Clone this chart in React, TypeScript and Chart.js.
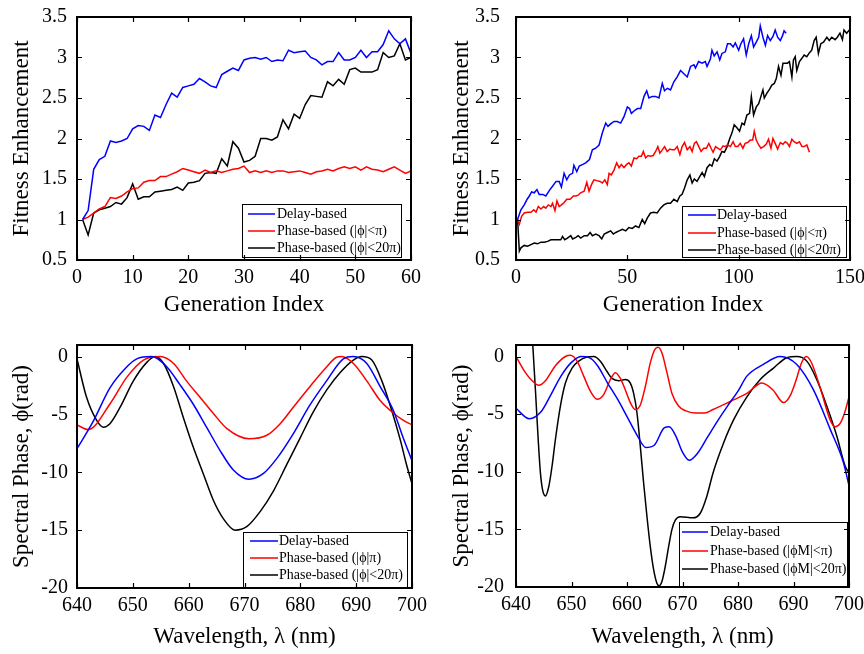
import React, { useEffect, useRef } from "react";
import { Chart, registerables } from "chart.js";

Chart.register(...registerables);

const SERIF = "'Liberation Serif', 'Times New Roman', Times, serif";

// ---------------- Top-left panel (60 generations) ----------------
const tlDelay = [1.0, 1.11, 1.62, 1.74, 1.78, 1.97, 1.95, 1.97, 2.0, 2.12, 2.16, 2.15, 2.10, 2.29, 2.26, 2.42, 2.56, 2.51, 2.63, 2.65, 2.67, 2.74, 2.70, 2.65, 2.63, 2.79, 2.83, 2.87, 2.84, 2.97, 2.99, 3.0, 2.98, 3.0, 2.95, 2.97, 2.96, 3.09, 3.06, 3.07, 3.08, 3.0, 2.97, 2.91, 2.95, 2.95, 3.06, 2.97, 2.97, 3.0, 3.09, 3.0, 3.07, 3.07, 3.16, 3.33, 3.23, 3.17, 3.23, 3.05];
const tlPhasePi = [1.0, 1.03, 1.08, 1.13, 1.16, 1.27, 1.26, 1.29, 1.34, 1.38, 1.39, 1.46, 1.48, 1.48, 1.53, 1.53, 1.56, 1.59, 1.63, 1.61, 1.59, 1.57, 1.61, 1.58, 1.6, 1.58, 1.6, 1.62, 1.63, 1.66, 1.58, 1.6, 1.58, 1.6, 1.58, 1.6, 1.6, 1.58, 1.59, 1.6, 1.58, 1.56, 1.59, 1.6, 1.62, 1.6, 1.63, 1.65, 1.63, 1.65, 1.61, 1.65, 1.62, 1.61, 1.59, 1.62, 1.65, 1.61, 1.57, 1.6];
const tlPhase20Pi = [1.0, 0.81, 1.08, 1.12, 1.14, 1.16, 1.21, 1.19, 1.27, 1.44, 1.25, 1.28, 1.28, 1.34, 1.35, 1.36, 1.37, 1.40, 1.36, 1.45, 1.46, 1.48, 1.57, 1.58, 1.57, 1.75, 1.66, 1.96, 1.88, 1.71, 1.73, 1.78, 2.0, 2.0, 1.98, 2.02, 2.23, 2.12, 2.30, 2.25, 2.42, 2.53, 2.52, 2.51, 2.70, 2.65, 2.73, 2.67, 2.85, 2.87, 2.82, 2.82, 2.82, 2.85, 3.06, 3.0, 3.02, 3.17, 2.97, 3.0];
const tlXTicks = [0, 10, 20, 30, 40, 50, 60];
const fitYTicks = [0.5, 1, 1.5, 2, 2.5, 3, 3.5];

// ---------------- Top-right panel (150 generations) ----------------
const trDelayGen = [0.7, 2.2, 3.7, 5, 6, 7, 8.2, 9.4, 10.4, 12, 13.4, 15, 16.4, 18, 19.4, 20.4, 21.6, 22.8, 24, 25.4, 26, 27.3, 28.4, 30, 31.3, 33, 34.3, 35.8, 37.3, 38.8, 40.3, 41.3, 42.5, 44, 45.5, 47, 48.5, 50, 51, 51.8, 53, 54.5, 56, 57.5, 58.7, 59.7, 61.2, 62.7, 64.2, 65.7, 66.7, 68, 69.4, 70.9, 72.4, 73.9, 75.4, 76.9, 78.4, 79.9, 80.6, 82, 83.6, 85, 85.8, 87.3, 88, 89, 90.3, 91.5, 92.5, 94, 95, 96.3, 97.5, 98.5, 100, 101, 102.2, 103.4, 104.5, 105.7, 106.7, 107.9, 109, 109.7, 110.9, 112, 113, 114.2, 115.4, 116.4, 117.5, 118.7, 119.7, 120.4, 121.3];
const trDelayVal = [1.0, 1.12, 1.18, 1.25, 1.29, 1.34, 1.33, 1.37, 1.31, 1.31, 1.29, 1.36, 1.41, 1.47, 1.47, 1.40, 1.57, 1.49, 1.55, 1.57, 1.67, 1.59, 1.66, 1.68, 1.70, 1.74, 1.86, 1.88, 1.92, 2.07, 2.19, 2.15, 2.18, 2.21, 2.21, 2.19, 2.27, 2.39, 2.37, 2.31, 2.34, 2.37, 2.37, 2.52, 2.59, 2.50, 2.52, 2.52, 2.50, 2.68, 2.59, 2.62, 2.60, 2.70, 2.76, 2.84, 2.80, 2.76, 2.89, 2.91, 2.87, 2.95, 2.93, 2.95, 2.89, 2.98, 3.09, 3.02, 3.07, 2.97, 3.05, 3.07, 3.17, 3.17, 3.13, 3.18, 3.09, 3.17, 3.23, 3.03, 3.17, 3.27, 3.13, 3.19, 3.25, 3.39, 3.25, 3.15, 3.27, 3.21, 3.26, 3.34, 3.25, 3.21, 3.27, 3.33, 3.30];
const trPiGen = [0.5, 1.5, 2.5, 3.7, 5.2, 6.7, 8, 9, 10, 11.2, 12.4, 13.4, 14.5, 15.7, 16.4, 17.5, 18.4, 19.4, 20.4, 21.6, 22.8, 24.3, 25.8, 26.9, 27.9, 29, 30.6, 31.8, 32.8, 33.9, 35, 36.3, 37.8, 38.8, 39.9, 41, 41.8, 42.8, 44, 45.2, 46.3, 47.3, 48.5, 49.7, 50.7, 51.8, 53, 54.2, 55.2, 56.3, 57.2, 58.2, 59.3, 60.4, 61.6, 62.7, 63.7, 64.6, 65.7, 66.7, 67.9, 69.1, 70.1, 71.2, 72.4, 73.6, 74.6, 75.7, 76.9, 78.1, 79.1, 80.1, 81, 82.1, 83.1, 84.3, 85.5, 86.6, 87.6, 88.5, 89.6, 90.6, 91.8, 93, 94, 95, 96.3, 97.5, 98.5, 99.6, 100.7, 101.9, 102.9, 104, 105.2, 106.3, 107, 107.9, 109, 110, 111.2, 112.4, 113.4, 114.5, 115.4, 116.4, 117.5, 118.7, 119.9, 120.9, 121.9, 122.8, 123.9, 124.9, 126.1, 127.3, 128.4, 129.4, 130.6, 131.8];
const trPiVal = [1.0, 0.94, 1.04, 1.08, 1.09, 1.09, 1.12, 1.09, 1.16, 1.13, 1.16, 1.14, 1.18, 1.16, 1.20, 1.11, 1.23, 1.16, 1.18, 1.21, 1.25, 1.25, 1.29, 1.29, 1.30, 1.33, 1.35, 1.46, 1.35, 1.43, 1.49, 1.48, 1.47, 1.45, 1.49, 1.43, 1.57, 1.55, 1.61, 1.70, 1.64, 1.68, 1.64, 1.68, 1.70, 1.66, 1.76, 1.75, 1.78, 1.78, 1.84, 1.76, 1.79, 1.78, 1.79, 1.84, 1.90, 1.82, 1.86, 1.90, 1.84, 1.87, 1.86, 1.86, 1.90, 1.80, 1.90, 1.95, 1.86, 1.90, 1.84, 1.94, 1.96, 1.90, 1.84, 1.88, 1.88, 1.94, 1.88, 1.83, 1.90, 1.88, 1.86, 1.91, 1.90, 1.92, 1.90, 1.96, 1.90, 1.90, 1.94, 1.88, 1.94, 1.95, 1.98, 1.98, 2.09, 1.98, 1.92, 1.88, 1.90, 1.93, 1.99, 1.88, 2.0, 1.94, 1.87, 1.95, 1.93, 1.96, 1.94, 1.90, 1.99, 1.96, 1.94, 1.96, 1.90, 1.90, 1.92, 1.83];
const tr20PiGen = [0, 0.7, 1.5, 2.2, 3.7, 5.2, 6.7, 8.2, 9.7, 11.2, 12.7, 14.2, 15.7, 17.2, 18.7, 20.1, 20.9, 21.9, 23.1, 24.6, 25.4, 26.9, 27.9, 29.1, 30.6, 32.1, 33.3, 34.3, 35.8, 37.3, 38.5, 39.6, 41, 42.5, 43.7, 44.8, 46.3, 47.8, 49.3, 50.7, 52.2, 53.7, 55.2, 56.7, 57.8, 59, 60.4, 61.9, 63.4, 64.9, 66.4, 67.9, 69.4, 70.9, 72.4, 73.6, 74.6, 75.7, 76.9, 78.1, 79.1, 80.1, 81.3, 82.5, 83.6, 84.6, 85.8, 87, 88, 89.1, 90.3, 91.5, 92.5, 93.6, 94.8, 96, 97, 98, 99.3, 100.4, 101.5, 102.5, 103.7, 104.9, 105.7, 106.7, 107.9, 109, 110, 110.9, 111.5, 112.7, 113.9, 114.9, 116, 116.9, 117.9, 119, 119.9, 120.9, 121.9, 122.8, 123.9, 124.6, 125.4, 126.1, 127.3, 128.4, 129.4, 130.6, 131.8, 132.8, 133.9, 134.8, 135.8, 136.9, 138.1, 139.6, 140.7, 141.8, 143.3, 144.3, 145.5, 146.6, 147.3, 148.5, 149.7];
const tr20PiVal = [1.0, 1.0, 0.61, 0.65, 0.68, 0.67, 0.69, 0.71, 0.70, 0.72, 0.72, 0.73, 0.75, 0.75, 0.75, 0.75, 0.79, 0.75, 0.77, 0.80, 0.76, 0.78, 0.80, 0.77, 0.80, 0.80, 0.84, 0.80, 0.82, 0.80, 0.76, 0.82, 0.84, 0.86, 0.82, 0.84, 0.86, 0.88, 0.86, 0.90, 0.89, 0.92, 0.90, 1.0, 0.95, 1.02, 1.08, 1.09, 1.08, 1.14, 1.18, 1.20, 1.20, 1.25, 1.22, 1.29, 1.31, 1.39, 1.49, 1.55, 1.45, 1.50, 1.47, 1.53, 1.58, 1.53, 1.64, 1.68, 1.66, 1.75, 1.72, 1.78, 1.84, 1.83, 1.90, 2.0, 2.07, 2.17, 2.13, 2.09, 2.19, 2.17, 2.29, 2.31, 2.52, 2.29, 2.39, 2.43, 2.52, 2.60, 2.50, 2.56, 2.61, 2.66, 2.68, 2.74, 2.89, 2.78, 2.93, 2.93, 2.93, 2.95, 2.76, 2.97, 3.01, 2.84, 2.95, 2.99, 3.03, 3.01, 3.06, 3.09, 3.21, 3.25, 3.05, 3.17, 3.19, 3.25, 3.21, 3.25, 3.22, 3.25, 3.30, 3.22, 3.34, 3.30, 3.34];
const trXTicks = [0, 50, 100, 150];

// ---------------- Bottom panels (spectral phase) ----------------
const specXTicks = [640, 650, 660, 670, 680, 690, 700];
const specYTicks = [-20, -15, -10, -5, 0];

const blDelayWl = [640, 642.9, 645.9, 648.9, 650.7, 653.4, 656.1, 658.4, 660.8, 663.2, 665.6, 668, 670.8, 673.4, 675.8, 678.7, 681.7, 684.7, 687.7, 689.5, 691.9, 694.3, 696.7, 698.4, 700];
const blDelayPh = [-7.96, -5.6, -2.7, -0.9, -0.2, 0, -0.9, -2.4, -4.1, -6.1, -8.1, -9.8, -10.6, -10.1, -8.8, -6.7, -4.2, -2.1, -0.2, 0, -0.6, -2.6, -4.7, -7.0, -9.0];
const blPiWl = [640, 642, 645.9, 648.9, 651.9, 654.9, 657.3, 659.6, 662, 664.4, 666.8, 670.8, 674, 676.4, 678.7, 681.7, 684.7, 686.5, 687.4, 689.5, 691.9, 694.3, 696.7, 698.4, 700];
const blPiPh = [-5.9, -6.3, -4.1, -1.8, -0.3, 0, -0.6, -2.1, -3.5, -4.9, -6.2, -7.1, -6.8, -5.8, -4.4, -2.6, -0.9, -0.06, 0, -0.6, -2.1, -3.8, -4.9, -5.5, -5.9];
const bl20PiWl = [640, 641.7, 643.5, 644.7, 645.9, 647.7, 650.1, 652.5, 654, 655.5, 657.3, 659, 660.8, 662.6, 664.4, 666.2, 668.3, 670.4, 672.8, 675.2, 677.6, 680, 682.3, 684.7, 687.1, 689.5, 691, 692.8, 694.6, 696.4, 697.9, 699, 700];
const bl20PiPh = [-0.2, -3.5, -5.5, -6.1, -5.8, -4.4, -2.1, -0.5, 0, -0.6, -2.6, -5.2, -7.8, -10.1, -12.4, -14, -15, -14.7, -13.4, -11.6, -9.3, -7.0, -4.8, -2.9, -1.4, -0.3, 0, -0.3, -2.1, -4.7, -7.2, -9.3, -11];

const brDelayWl = [640, 642.4, 644.5, 646.3, 648.1, 649.9, 651.7, 653.2, 654.7, 656.5, 658.3, 660.1, 661.9, 663.4, 664.9, 666.7, 667.6, 668.8, 670, 671.2, 672.7, 674.5, 676.3, 678.1, 680, 681.6, 684.5, 687.6, 690.6, 693.6, 696.6, 699, 700];
const brDelayPh = [-4.5, -5.4, -4.8, -3.3, -1.7, -0.55, 0, -0.1, -0.8, -2.3, -3.7, -5.3, -6.9, -7.9, -7.7, -6.2, -6.1, -6.9, -8.3, -9.0, -8.4, -7.0, -5.6, -4.3, -3.0, -1.7, -0.7, 0, -0.7, -2.9, -6.3, -9.2, -11.2];
const brPiWl = [640, 641.7, 642.9, 644.1, 645.3, 647.1, 648.9, 649.8, 651, 652.2, 653.4, 654.6, 655.8, 657, 657.9, 658.8, 659.7, 660.6, 661.5, 662.4, 663.3, 664.2, 665, 665.6, 666.3, 667.2, 668.1, 669.3, 670.5, 672.3, 674, 675.5, 678.6, 681.6, 684.3, 686.3, 688.2, 689.5, 690.5, 691.4, 692.3, 693.2, 694.8, 696.6, 697.5, 698.4, 699.2, 700];
const brPiPh = [0, -1.4, -2.1, -2.5, -2.1, -0.8, 0, 0.1, -0.4, -1.7, -3.0, -3.7, -3.3, -2.0, -1.4, -1.9, -2.9, -4.0, -4.6, -4.2, -2.6, -0.55, 0.6, 0.8, 0.3, -1.4, -3.2, -4.3, -4.7, -4.9, -4.9, -4.6, -3.9, -3.2, -2.3, -2.9, -4.0, -3.3, -2.0, -0.6, 0, -0.5, -2.7, -5.5, -6.1, -5.8, -4.9, -3.5];
const br20PiWl = [642.7, 643.0, 643.5, 644.0, 644.4, 644.8, 645.3, 645.9, 646.5, 647.1, 648.0, 648.9, 650.1, 651.3, 652.8, 654, 655.2, 656.4, 657.3, 658.5, 659.7, 660.6, 661.2, 661.8, 662.4, 663.0, 663.6, 664.2, 664.8, 665.4, 665.8, 666.3, 666.9, 667.5, 668.1, 668.7, 669.6, 671.9, 673.2, 674.4, 675.5, 677.4, 679.2, 681.6, 684, 686.4, 688.8, 690.6, 692.4, 694.2, 696, 697.8, 699.3, 700];
const br20PiPh = [3.6, 1.2, -2.9, -7.2, -10.1, -11.6, -12.1, -11.3, -9.5, -7.2, -4.3, -2.3, -1.0, -0.4, -0.05, 0, -0.4, -1.3, -1.9, -2.1, -2.0, -2.3, -3.2, -4.9, -7.8, -11.0, -13.9, -16.5, -18.5, -19.7, -19.9, -19.5, -18.2, -16.5, -15.0, -14.2, -13.9, -14.0, -13.6, -12.1, -10.1, -7.5, -5.5, -3.5, -2.0, -1.0, -0.1, 0, -0.4, -2.0, -4.3, -6.9, -9.5, -10.1];

const legendTop = ["Delay-based", "Phase-based (|ϕ|<π)", "Phase-based (|ϕ|<20π)"];
const legendBL = ["Delay-based", "Phase-based (|ϕ|π)", "Phase-based (|ϕ|<20π)"];
const legendBR = ["Delay-based", "Phase-based (|ϕM|<π)", "Phase-based (|ϕM|<20π)"];
const seriesColors = ["#0000ff", "#ff0000", "#000000"];

const pts = (xs: number[], ys: number[]) => xs.map((x, i) => ({ x, y: ys[i] }));

type Spec = {
  series: { xs: number[]; ys: number[] }[];
  labels: string[];
  smooth: boolean;
  xMin: number; xMax: number; xTicks: number[];
  yMin: number; yMax: number; yTicks: number[];
  xTitle: string; yTitle: string;
  yWidth: number; xHeight: number; padTop: number; padRight: number;
  yTickPad: number; xTitlePad: number; yTitlePad: number;
  legend: { x: number; y: number; w: number; h: number; rows: number[]; l0: number; l1: number; tx: number };
};

function buildConfig(spec: Spec): any {
  const frame = {
    id: "frameTicks",
    afterDraw(chart: any) {
      const { ctx, chartArea: a, scales } = chart;
      ctx.save();
      ctx.strokeStyle = "#000";
      ctx.lineWidth = 1.2;
      ctx.beginPath();
      spec.xTicks.forEach((v) => {
        const p = Math.round(scales.x.getPixelForValue(v)) + 0.5;
        ctx.moveTo(p, a.bottom); ctx.lineTo(p, a.bottom - 5);
        ctx.moveTo(p, a.top); ctx.lineTo(p, a.top + 5);
      });
      spec.yTicks.forEach((v) => {
        const p = Math.round(scales.y.getPixelForValue(v)) + 0.5;
        ctx.moveTo(a.left, p); ctx.lineTo(a.left + 5, p);
        ctx.moveTo(a.right, p); ctx.lineTo(a.right - 5, p);
      });
      ctx.stroke();
      ctx.lineWidth = 2;
      ctx.strokeRect(a.left, a.top, a.right - a.left, a.bottom - a.top);
      ctx.restore();
    },
  };
  const legend = {
    id: "legendBox",
    afterDatasetsDraw(chart: any) {
      const { ctx } = chart;
      const L = spec.legend;
      ctx.save();
      ctx.fillStyle = "#fff";
      ctx.fillRect(L.x, L.y, L.w, L.h);
      ctx.strokeStyle = "#000";
      ctx.lineWidth = 1;
      ctx.strokeRect(L.x + 0.5, L.y + 0.5, L.w, L.h);
      ctx.font = `14px ${SERIF}`;
      ctx.textBaseline = "middle";
      ctx.textAlign = "left";
      spec.labels.forEach((lab, i) => {
        const y = L.y + L.rows[i];
        ctx.strokeStyle = seriesColors[i];
        ctx.lineWidth = 1.5;
        ctx.beginPath();
        ctx.moveTo(L.x + L.l0, y);
        ctx.lineTo(L.x + L.l1, y);
        ctx.stroke();
        ctx.fillStyle = "#000";
        ctx.fillText(lab, L.x + L.tx, y);
      });
      ctx.restore();
    },
  };
  const tickFont = { family: SERIF, size: 20 };
  const titleFont = { family: SERIF, size: 23 };
  return {
    type: "line",
    data: {
      datasets: spec.series.map((s, i) => ({
        label: spec.labels[i],
        data: pts(s.xs, s.ys),
        borderColor: seriesColors[i],
        backgroundColor: seriesColors[i],
        borderWidth: 1.5,
        pointRadius: 0,
        fill: false,
        tension: spec.smooth ? 0.4 : 0,
        cubicInterpolationMode: spec.smooth ? "monotone" : "default",
      })),
    },
    options: {
      animation: false,
      responsive: false,
      maintainAspectRatio: false,
      devicePixelRatio: 1,
      layout: { padding: { left: 0, top: spec.padTop, right: spec.padRight, bottom: 0 } },
      plugins: { legend: { display: false }, tooltip: { enabled: false } },
      scales: {
        x: {
          type: "linear",
          min: spec.xMin,
          max: spec.xMax,
          afterBuildTicks: (s: any) => { s.ticks = spec.xTicks.map((v) => ({ value: v })); },
          afterFit: (s: any) => {
            s.height = spec.xHeight;
            s.paddingLeft = 0; s.paddingRight = 0; s.paddingTop = 0; s.paddingBottom = 0;
          },
          grid: { display: false, drawTicks: false },
          border: { display: false },
          ticks: { color: "#000", font: tickFont, padding: 6, maxRotation: 0, autoSkip: false, callback: (v: any) => String(v) },
          title: { display: true, text: spec.xTitle, color: "#000", font: titleFont, padding: { top: 0, bottom: spec.xTitlePad } },
        },
        y: {
          type: "linear",
          min: spec.yMin,
          max: spec.yMax,
          afterBuildTicks: (s: any) => { s.ticks = spec.yTicks.map((v) => ({ value: v })); },
          afterFit: (s: any) => {
            s.width = spec.yWidth;
            s.paddingLeft = 0; s.paddingRight = 0; s.paddingTop = 0; s.paddingBottom = 0;
          },
          grid: { display: false, drawTicks: false },
          border: { display: false },
          ticks: { color: "#000", font: tickFont, padding: spec.yTickPad, autoSkip: false, callback: (v: any) => String(v) },
          title: { display: true, text: spec.yTitle, color: "#000", font: titleFont, padding: { top: spec.yTitlePad, bottom: 0 } },
        },
      },
    },
    plugins: [legend, frame],
  };
}

const tlGen = tlDelay.map((_, i) => i + 1);

const specs: { left: number; top: number; spec: Spec }[] = [
  {
    left: 0, top: 0,
    spec: {
      series: [{ xs: tlGen, ys: tlDelay }, { xs: tlGen, ys: tlPhasePi }, { xs: tlGen, ys: tlPhase20Pi }],
      labels: legendTop, smooth: false,
      xMin: 0, xMax: 60, xTicks: tlXTicks, yMin: 0.5, yMax: 3.5, yTicks: fitYTicks,
      xTitle: "Generation Index", yTitle: "Fitness Enhancement",
      yWidth: 77, xHeight: 67, padTop: 17, padRight: 21, yTickPad: 10, xTitlePad: 8, yTitlePad: 8,
      legend: { x: 242, y: 204, w: 159, h: 53, rows: [10, 27, 44], l0: 6, l1: 33, tx: 35 },
    },
  },
  {
    left: 432, top: 0,
    spec: {
      series: [{ xs: trDelayGen, ys: trDelayVal }, { xs: trPiGen, ys: trPiVal }, { xs: tr20PiGen, ys: tr20PiVal }],
      labels: legendTop, smooth: false,
      xMin: 0, xMax: 150, xTicks: trXTicks, yMin: 0.5, yMax: 3.5, yTicks: fitYTicks,
      xTitle: "Generation Index", yTitle: "Fitness Enhancement",
      yWidth: 84, xHeight: 67, padTop: 17, padRight: 14, yTickPad: 16, xTitlePad: 8, yTitlePad: 16,
      legend: { x: 250, y: 206, w: 164, h: 51, rows: [9, 27, 44], l0: 6, l1: 34, tx: 35 },
    },
  },
  {
    left: 0, top: 327,
    spec: {
      series: [{ xs: blDelayWl, ys: blDelayPh }, { xs: blPiWl, ys: blPiPh }, { xs: bl20PiWl, ys: bl20PiPh }],
      labels: legendBL, smooth: true,
      xMin: 640, xMax: 700, xTicks: specXTicks, yMin: -20, yMax: 1, yTicks: specYTicks,
      xTitle: "Wavelength, λ (nm)", yTitle: "Spectral Phase, ϕ(rad)",
      yWidth: 77, xHeight: 66, padTop: 18, padRight: 20, yTickPad: 9, xTitlePad: 3, yTitlePad: 8,
      legend: { x: 243, y: 205, w: 164, h: 55, rows: [9, 26, 43], l0: 7, l1: 35, tx: 36 },
    },
  },
  {
    left: 432, top: 327,
    spec: {
      series: [{ xs: brDelayWl, ys: brDelayPh }, { xs: brPiWl, ys: brPiPh }, { xs: br20PiWl, ys: br20PiPh }],
      labels: legendBR, smooth: true,
      xMin: 640, xMax: 700, xTicks: specXTicks, yMin: -20, yMax: 1, yTicks: specYTicks,
      xTitle: "Wavelength, λ (nm)", yTitle: "Spectral Phase, ϕ(rad)",
      yWidth: 84, xHeight: 67, padTop: 18, padRight: 15, yTickPad: 12, xTitlePad: 3, yTitlePad: 16,
      legend: { x: 247, y: 195, w: 168, h: 64, rows: [10, 29, 47], l0: 3, l1: 29, tx: 31 },
    },
  },
];

function Panel({ spec, left, top }: { spec: Spec; left: number; top: number }) {
  const ref = useRef<HTMLCanvasElement>(null);
  useEffect(() => {
    const chart = new Chart(ref.current as HTMLCanvasElement, buildConfig(spec));
    return () => chart.destroy();
  }, [spec]);
  return (
    <canvas
      ref={ref}
      width={432}
      height={327}
      style={{ position: "absolute", left, top, width: 432, height: 327 }}
    />
  );
}

export default function App() {
  return (
    <div style={{ position: "fixed", left: 0, top: 0, width: 864, height: 654, background: "#fff" }}>
      {specs.map((p, i) => (
        <Panel key={i} spec={p.spec} left={p.left} top={p.top} />
      ))}
    </div>
  );
}
